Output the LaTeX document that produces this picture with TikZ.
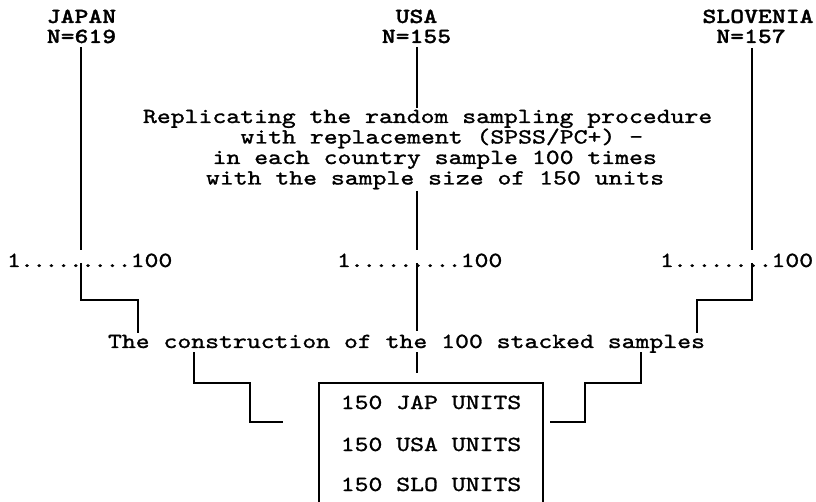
\documentclass[tikz,border=0pt]{standalone}
\usepackage{fontspec}
% typewriter faces, widened to a Courier-like pitch
\newfontfamily\tw[FakeStretch=1.23,FakeBold=1.3]{lmmono10-regular.otf}
\newfontfamily\twb[FakeStretch=1.23,FakeBold=1.2]{lmmonolt10-bold.otf}
\newcommand\dd{\makebox[12.2pt]{.}}
\begin{document}
\begin{tikzpicture}[x=1pt,y=-1pt,
  txt/.style={inner sep=0pt,outer sep=0pt,anchor=base west,font=\tw\fontsize{21.5}{21.5}\selectfont},
  ctxt/.style={inner sep=0pt,outer sep=0pt,anchor=base,font=\tw\fontsize{21.5}{21.5}\selectfont},
  hdr/.style={inner sep=0pt,outer sep=0pt,anchor=base,font=\twb\fontsize{21.5}{21.5}\selectfont},
  wire/.style={line width=1.8pt,line join=miter,line cap=butt}]
\useasboundingbox (0,0) rectangle (816,502);

% country headers
\node[hdr] (jpn)  at (81.5,23) {JAPAN};
\node[hdr] (jpnN) at (81.5,43) {N=619};
\node[hdr] (usa)  at (416.5,23) {USA};
\node[hdr] (usaN) at (416.5,43) {N=155};
\node[hdr] (slo)  at (758,23) {SLOVENIA};
\node[hdr] (sloN) at (751,43) {N=157};

% resampling description
\node[txt] (rep1) at (143,123)   {Replicating the random sampling procedure};
\node[txt] (rep2) at (240.5,143.5) {with replacement (SPSS/PC+) -};
\node[txt] (rep3) at (212.6,164) {in each country sample 100 times};
\node[txt] (rep4) at (206,184.5) {with the sample size of 150 units};

% replicate ranges
\node[txt] (jd) at (7,267)   {1\dd\dd\dd\dd\dd\dd\dd\dd\dd 100};
\node[txt] (ud) at (337,267) {1\dd\dd\dd\dd\dd\dd\dd\dd\dd 100};
\node[txt] (sd) at (660,267) {1\dd\dd\dd\dd\dd\dd\dd\dd 100};

% stacking step
\node[txt] (cons) at (108,348) {The construction of the 100 stacked samples};

% stacked sample contents
\node[ctxt] (u1) at (431,409) {150 JAP UNITS};
\node[ctxt] (u2) at (431,451) {150 USA UNITS};
\node[ctxt] (u3) at (431,491) {150 SLO UNITS};

% routing points
\coordinate (jA) at (81,47);   \coordinate (jB) at (81,250);
\coordinate (jC) at (81,263);  \coordinate (jD) at (81,300);
\coordinate (jE) at (138,300); \coordinate (jF) at (138,333);
\coordinate (uA) at (417,47);  \coordinate (uB) at (417,108);
\coordinate (uC) at (417,191); \coordinate (uD) at (417,250);
\coordinate (uE) at (417,263); \coordinate (uF) at (417,331);
\coordinate (uG) at (417,352); \coordinate (uH) at (417,373);
\coordinate (sA) at (752,48);  \coordinate (sB) at (752,250);
\coordinate (sC) at (752,263); \coordinate (sD) at (752,300);
\coordinate (sE) at (697,300); \coordinate (sF) at (697,333);
\coordinate (lA) at (194,352); \coordinate (lB) at (194,383);
\coordinate (lC) at (250,383); \coordinate (lD) at (250,422);
\coordinate (lE) at (283,422);
\coordinate (rA) at (641,352); \coordinate (rB) at (641,383);
\coordinate (rC) at (585,383); \coordinate (rD) at (585,422);
\coordinate (rE) at (550,422);
\coordinate (bL) at (319,502); \coordinate (bTL) at (319,383);
\coordinate (bTR) at (543,383); \coordinate (bR) at (543,502);

% connectors
\draw[wire] (jA) -- (jB);
\draw[wire] (jC) -- (jD) -- (jE) -- (jF);
\draw[wire] (uA) -- (uB);
\draw[wire] (uC) -- (uD);
\draw[wire] (uE) -- (uF);
\draw[wire] (uG) -- (uH);
\draw[wire] (sA) -- (sB);
\draw[wire] (sC) -- (sD) -- (sE) -- (sF);
\draw[wire] (lA) -- (lB) -- (lC) -- (lD) -- (lE);
\draw[wire] (rA) -- (rB) -- (rC) -- (rD) -- (rE);

% open-bottomed frame round the stacked sample
\draw[wire] (bL) -- (bTL) -- (bTR) -- (bR);
\end{tikzpicture}
\end{document}
